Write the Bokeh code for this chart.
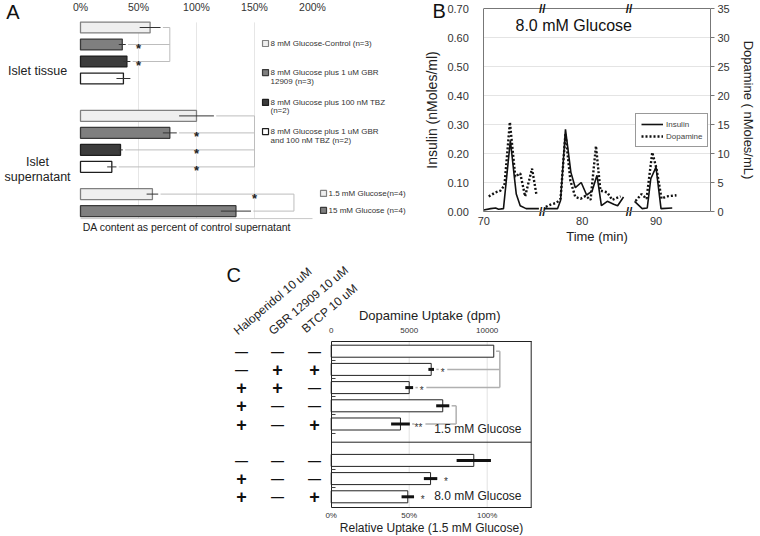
from bokeh.plotting import figure
from bokeh.models import (Range1d, LinearAxis, FixedTicker, ColumnDataSource,
                          Legend, LegendItem, NumeralTickFormatter)
from bokeh.core.properties import value
from bokeh.embed import file_html
from bokeh.resources import INLINE

FONT = "Liberation Sans"

# ================= Panel A data =================
a_groups = [0, 0, 0, 0, 1, 1, 1, 1, 2, 2]
a_kinds = [0, 1, 2, 3, 0, 1, 2, 3, 0, 1]
a_values = [60, 36, 40, 37, 100, 77, 34.5, 27, 62, 134]
a_errors = [9, 3, 3, 6, 15, 6, 2, 4, 5, 13]
a_star_bars = [1, 2, 5, 6, 7, 8]
a_bracket_groups = [[0, 1, 2], [4, 5, 6, 7], [8, 9]]
a_x_ticks = [0, 50, 100, 150, 200]
a_x_tick_labels = ["0%", "50%", "100%", "150%", "200%"]
a_row_labels = ["Islet tissue", "Islet", "supernatant"]
a_legend_lines = ["8 mM Glucose-Control (n=3)",
                  "8 mM Glucose plus 1 uM GBR", "12909 (n=3)",
                  "8 mM Glucose plus 100 nM TBZ", "(n=2)",
                  "8 mM Glucose plus 1 uM GBR", "and  100 nM TBZ (n=2)",
                  "1.5 mM Glucose(n=4)", "15 mM Glucose (n=4)"]
a_legend_kinds = [0, 1, 2, 3, 0, 1]
a_xlabel = "DA content  as percent of control supernatant"

# ================= Panel B data =================
b_shift = 2.5  # minutes removed at the second axis break
ins_t1 = [70.0, 70.7, 71.2, 71.5, 72.0, 72.7, 73.1, 73.3, 73.7, 74.3, 75.6]
ins_v1 = [0.005, 0.010, 0.012, 0.008, 0.010, 0.245, 0.120, 0.060, 0.020, 0.010, 0.010]
dop_t1 = [70.5, 71.2, 71.7, 72.1, 72.65, 73.2, 73.7, 74.2, 74.9, 75.35]
dop_v1 = [2.6, 3.3, 3.6, 4.5, 15.4, 6.0, 6.6, 2.6, 7.4, 2.9]
ins_t2 = [76.1, 77.5, 77.8, 78.3, 78.85, 79.3, 79.9, 80.45, 81.0, 81.5, 81.95, 82.55, 83.2, 83.6, 84.2]
ins_v2 = [0.010, 0.010, 0.038, 0.283, 0.135, 0.082, 0.100, 0.057, 0.070, 0.125, 0.020, 0.035, 0.025, 0.020, 0.050]
dop_t2 = [76.3, 76.8, 77.4, 77.8, 78.3, 78.8, 79.3, 79.85, 80.35, 80.85, 81.4, 81.85, 82.55, 83.05, 83.9]
dop_v2 = [0.8, 1.2, 1.5, 2.2, 13.4, 5.3, 2.5, 2.2, 2.7, 2.0, 11.3, 3.6, 3.3, 2.0, 2.6]
ins_t3 = [87.82, 88.60, 89.11, 89.47, 90.00, 90.51, 91.65]
ins_v3 = [0.035, 0.010, 0.012, 0.113, 0.153, 0.010, 0.012]
dop_t3 = [87.92, 88.53, 89.04, 89.62, 90.05, 90.56, 91.07, 92.08]
dop_v3 = [1.8, 3.0, 2.2, 10.2, 7.4, 2.2, 2.6, 2.8]
b_x_ticks = [70, 80, 90]
b_ins_ticks = [0.0, 0.1, 0.2, 0.3, 0.4, 0.5, 0.6, 0.7]
b_dop_ticks = [0, 5, 10, 15, 20, 25, 30, 35]
b_title = "8.0 mM Glucose"
b_series = ["Insulin", "Dopamine"]

# ================= Panel C data =================
c_treatments = ["Haloperidol 10 uM", "GBR 12909 10 uM", "BTCP  10 uM"]
c_halo = [0, 0, 1, 1, 1, 0, 1, 1]
c_gbr = [0, 1, 1, 0, 0, 0, 0, 0]
c_btcp = [0, 1, 0, 0, 1, 0, 0, 1]
c_group = [0, 0, 0, 0, 0, 1, 1, 1]
c_uptake = [10420, 6410, 5000, 7150, 4440, 9140, 6370, 4910]
c_err = [0, 180, 250, 420, 600, 1100, 430, 400]
c_sig = ["", "*", "*", "", "**", "", "*", "*"]
c_bracket_groups = [[0, 1, 2], [3, 4]]
c_glucose = ["1.5 mM Glucose", "8.0 mM Glucose"]
c_x_ticks = [0, 5000, 10000]
c_top_labels = ["0", "5000", "10000"]
c_rel_labels = ["0%", "50%", "100%"]
c_top_title = "Dopamine Uptake  (dpm)"
c_bottom_title = "Relative Uptake (1.5 mM Glucose)"

# ================= canvas geometry =================
W, H = 760, 536


def xrange_for(v0, p0, s):
    return Range1d(v0 - p0 / s, v0 + (W - p0) / s)


def yrange_down(v0, p0, s):
    return Range1d(v0 + (H - p0) / s, v0 - p0 / s)


def yrange_up(v0, p0, s):
    return Range1d(v0 - (H - p0) / s, v0 + p0 / s)


p = figure(width=W, height=H, output_backend="svg", toolbar_location=None,
           x_range=xrange_for(0, 80, 1.16), y_range=yrange_down(0, 27, 17),
           x_axis_location=None, y_axis_location=None,
           min_border_left=0, min_border_right=0, min_border_top=0, min_border_bottom=0)
p.outline_line_color = None
p.grid.visible = False
p.extra_x_ranges = {"b_x": xrange_for(70, 483.3, 9.84), "c_x": xrange_for(0, 330.7, 0.0156)}
p.extra_y_ranges = {"b_y": yrange_up(0, 211, 290), "b_dop": yrange_up(0, 211, 5.8),
                    "c_y": yrange_down(0, 350.7, 18.2)}


def txt(x, y, text, size, align="left", baseline="middle", color="#222222", **kw):
    return p.text(x=x, y=y, text=text, text_font=value(FONT), text_font_size=size,
                  text_align=align, text_baseline=baseline, text_color=color, **kw)


# ---------------- Panel A ----------------
A_GROUP_OFFSET = [0, 5.2, 9.8]
A_STAR_X = [50, 100, 150]
A_BRACKET_X = [77, 150, 184]
A_FILL = ["#efefef", "#7f7f7f", "#3c3c3c", "#ffffff"]
A_LINE = ["#808080", "#3a3a3a", "#1e1e1e", "#1e1e1e"]
A_LEG_Y = [0.94, 2.65, 3.15, 4.41, 4.91, 6.12, 6.65, 9.76, 10.76]
A_LEG_X = [163.8] * 7 + [213.8] * 2
A_LEG_SQ_Y = [0.94, 2.65, 4.41, 6.12, 9.76, 10.76]
A_LEG_SQ_X = [159.5] * 4 + [209.5] * 2
A_ROWLAB_Y = [2.53, 7.94, 8.82]
A_BASE_Y = 11.24

a_y = []
_cnt = {}
for g in a_groups:
    k = _cnt.get(g, 0)
    a_y.append(A_GROUP_OFFSET[g] + k)
    _cnt[g] = k + 1

top_ax = LinearAxis(ticker=FixedTicker(ticks=a_x_ticks), fixed_location=-0.5,
                    bounds=(a_x_ticks[0], a_x_ticks[-1]),
                    major_label_overrides={t: l for t, l in zip(a_x_ticks, a_x_tick_labels)})
top_ax.axis_line_color = None
top_ax.major_tick_line_color = None
top_ax.minor_tick_line_color = None
top_ax.major_label_standoff = 0
top_ax.major_label_text_font = FONT
top_ax.major_label_text_font_size = "10.5px"
top_ax.major_label_text_color = "#333333"
p.add_layout(top_ax, "above")

p.segment(x0=a_x_ticks[1:4], y0=[-0.3] * 3, x1=a_x_ticks[1:4], y1=[A_BASE_Y] * 3,
          line_color="#e6e6e6", line_width=1)
p.segment(x0=[a_x_ticks[0]], y0=[A_BASE_Y], x1=[a_x_ticks[-1]], y1=[A_BASE_Y],
          line_color="#c8c8c8", line_width=1)

cx0, cx1, cy0, cy1 = [], [], [], []
for gi, bars in enumerate(a_bracket_groups):
    bx = A_BRACKET_X[gi]
    for b in bars:
        cx0.append(a_values[b] + a_errors[b] + 2)
        cx1.append(bx)
        cy0.append(a_y[b])
        cy1.append(a_y[b])
    cx0.append(bx); cx1.append(bx)
    cy0.append(a_y[bars[0]]); cy1.append(a_y[bars[-1]])
p.segment(x0=cx0, y0=cy0, x1=cx1, y1=cy1, line_color="#bdbdbd", line_width=1)

srcA = ColumnDataSource(dict(y=a_y, v=a_values,
                             fill=[A_FILL[k] for k in a_kinds],
                             line=[A_LINE[k] for k in a_kinds],
                             lo=[v - e for v, e in zip(a_values, a_errors)],
                             hi=[v + e for v, e in zip(a_values, a_errors)]))
p.hbar(y="y", left=0, right="v", height=0.64, fill_color="fill", line_color="line",
       line_width=1.3, source=srcA)
p.segment(x0="lo", y0="y", x1="hi", y1="y", line_color="#333333", line_width=1, source=srcA)

txt([A_STAR_X[a_groups[b]] for b in a_star_bars], [a_y[b] for b in a_star_bars],
    ["*"] * len(a_star_bars), "13px", align="center", text_font_style="bold", y_offset=4)

p.scatter(x=A_LEG_SQ_X, y=A_LEG_SQ_Y, marker="square", size=6,
          fill_color=[A_FILL[k] for k in a_legend_kinds],
          line_color=[A_LINE[k] for k in a_legend_kinds], line_width=1.2)
txt(A_LEG_X, A_LEG_Y, a_legend_lines, "8px", color="#333333")
txt([-37, -37, -37], A_ROWLAB_Y, a_row_labels, "12.5px", align="center")
txt([93], [11.76], [a_xlabel], "10.5px", align="center")
txt([-64], [-0.94], ["A"], "20px", color="#111111")

# ---------------- Panel B ----------------
B_X_END = 93.04


def disp(t):
    return t - b_shift if t > 86 else t


b_breaks = [(ins_t1[-1] + ins_t2[0]) / 2 + 0.1, (ins_t2[-1] + disp(ins_t3[0])) / 2]
BK = dict(x_range_name="b_x", y_range_name="b_y")

inner = [t for t in b_ins_ticks if 0 < t < b_ins_ticks[-1]]
p.segment(x0=[70] * len(inner), y0=inner, x1=[B_X_END] * len(inner), y1=inner,
          line_color="#e4e4e4", line_width=1, **BK)
p.segment(x0=[70], y0=[b_ins_ticks[-1]], x1=[B_X_END], y1=[b_ins_ticks[-1]],
          line_color="#777777", line_width=1, **BK)

ya = LinearAxis(x_range_name="b_x", y_range_name="b_y", fixed_location=70,
                bounds=(b_ins_ticks[0], b_ins_ticks[-1]), ticker=FixedTicker(ticks=b_ins_ticks),
                formatter=NumeralTickFormatter(format="0.00"))
ya.major_tick_line_color = None
ya.minor_tick_line_color = None
ya.axis_line_color = "#777777"
ya.major_label_standoff = 9
ya.major_label_text_font = FONT
ya.major_label_text_font_size = "11px"
ya.major_label_text_color = "#333333"
ya.axis_label = "Insulin (nMoles/ml)"
ya.axis_label_text_font = FONT
ya.axis_label_text_font_size = "14px"
ya.axis_label_text_font_style = "normal"
ya.axis_label_standoff = 4
ya.axis_label_text_color = "#222222"
p.add_layout(ya, "left")

xticks_disp = [disp(t) for t in b_x_ticks]
xa = LinearAxis(x_range_name="b_x", y_range_name="b_y", fixed_location=0,
                bounds=(70, B_X_END), ticker=FixedTicker(ticks=xticks_disp),
                major_label_overrides={d: str(t) for d, t in zip(xticks_disp, b_x_ticks)})
xa.major_tick_out = 0
xa.major_tick_in = 0
xa.minor_tick_line_color = None
xa.axis_line_color = "#777777"
xa.major_label_standoff = 5
xa.major_label_text_font = FONT
xa.major_label_text_font_size = "11px"
xa.major_label_text_color = "#333333"
xa.axis_label = "Time (min)"
xa.axis_label_text_font = FONT
xa.axis_label_text_font_size = "13px"
xa.axis_label_text_font_style = "normal"
xa.axis_label_standoff = 1
xa.axis_label_text_color = "#222222"
p.add_layout(xa, "below")

ra = LinearAxis(x_range_name="b_x", y_range_name="b_dop", fixed_location=B_X_END,
                bounds=(b_dop_ticks[0], b_dop_ticks[-1]), ticker=FixedTicker(ticks=b_dop_ticks))
ra.major_tick_out = 4
ra.major_tick_in = 0
ra.major_tick_line_color = "#777777"
ra.minor_tick_line_color = None
ra.axis_line_color = "#777777"
ra.major_label_standoff = 3
ra.major_label_text_font = FONT
ra.major_label_text_font_size = "11px"
ra.major_label_text_color = "#333333"
ra.axis_label = "Dopamine ( nMoles/mL)"
ra.axis_label_text_font = FONT
ra.axis_label_text_font_size = "13px"
ra.axis_label_text_font_style = "normal"
ra.axis_label_standoff = 8
ra.axis_label_text_color = "#222222"
p.add_layout(ra, "right")

ins_r = []
for ts, vs in [(ins_t1, ins_v1), (ins_t2, ins_v2), (ins_t3, ins_v3)]:
    ins_r.append(p.line([disp(t) for t in ts], vs, line_color="#111111", line_width=1.6, **BK))
dop_r = []
for ts, vs in [(dop_t1, dop_v1), (dop_t2, dop_v2), (dop_t3, dop_v3)]:
    dop_r.append(p.line([disp(t) for t in ts], vs, x_range_name="b_x", y_range_name="b_dop",
                        line_color="#111111", line_width=2.4, line_dash="2 2"))

txt([73.22], [0.641], [b_title], "16px", color="#111111", **BK)
txt(b_breaks * 2, [0.0, 0.0, 0.70, 0.70], ["//"] * 4, "12px", align="center",
    color="#111111", text_font_style="bold", **BK)
txt([64.79], [0.69], ["B"], "20px", color="#111111", **BK)

legB = Legend(items=[LegendItem(label=b_series[0], renderers=[ins_r[0]]),
                     LegendItem(label=b_series[1], renderers=[dop_r[0]])],
              location=(635, H - 147))
legB.label_text_font = FONT
legB.label_text_font_size = "8px"
legB.glyph_width = 22
legB.glyph_height = 10
legB.label_height = 10
legB.label_standoff = 3
legB.spacing = 2
legB.padding = 5
legB.margin = 0
legB.border_line_color = "#333333"
legB.background_fill_color = "white"
legB.background_fill_alpha = 1
p.add_layout(legB)

# ---------------- Panel C ----------------
C_GROUP_OFFSET = [0, 6]
C_COL_X = [-5750, -3442, -1071]
C_HEAD_X = [-6135, -3891, -1776]
C_HEAD_Y = [-1.03, -1.03, -1.14]
C_BRACKET_X = [10810, 8010]
C_DIVIDER = 5
C_X_END = 12820
C_TOP, C_BOTTOM = -0.56, 8.6
CK = dict(x_range_name="c_x", y_range_name="c_y")

c_y = []
_cnt = {}
for g in c_group:
    k = _cnt.get(g, 0)
    c_y.append(C_GROUP_OFFSET[g] + k)
    _cnt[g] = k + 1

p.segment(x0=c_x_ticks[1:], y0=[C_TOP] * 2, x1=c_x_ticks[1:], y1=[C_BOTTOM] * 2,
          line_color="#e2e2e2", line_width=1, **CK)
p.segment(x0=[0, C_X_END], y0=[C_DIVIDER, C_TOP], x1=[C_X_END, C_X_END], y1=[C_DIVIDER, C_BOTTOM],
          line_color="#222222", line_width=1, **CK)

yc = LinearAxis(x_range_name="c_x", y_range_name="c_y", fixed_location=0,
                bounds=(C_TOP, C_BOTTOM),
                ticker=FixedTicker(ticks=[y + 0.5 for y in c_y if y + 0.5 < max(c_y)]))
yc.major_tick_in = 4
yc.major_tick_out = 0
yc.major_tick_line_color = "#444444"
yc.minor_tick_line_color = None
yc.axis_line_color = "#222222"
yc.major_label_text_color = None
p.add_layout(yc, "left")

xc = LinearAxis(x_range_name="c_x", y_range_name="c_y", fixed_location=C_BOTTOM,
                bounds=(0, C_X_END), ticker=FixedTicker(ticks=c_x_ticks),
                major_label_overrides={t: l for t, l in zip(c_x_ticks, c_rel_labels)})
xc.major_tick_out = 0
xc.major_tick_in = 0
xc.minor_tick_line_color = None
xc.axis_line_color = "#222222"
xc.major_label_standoff = 3
xc.major_label_text_font = FONT
xc.major_label_text_font_size = "8px"
xc.major_label_text_color = "#333333"
xc.axis_label = c_bottom_title
xc.axis_label_text_font = FONT
xc.axis_label_text_font_size = "12px"
xc.axis_label_text_font_style = "normal"
xc.axis_label_standoff = -2
xc.axis_label_text_color = "#222222"
p.add_layout(xc, "below")

tc = LinearAxis(x_range_name="c_x", y_range_name="c_y", fixed_location=C_TOP,
                bounds=(0, C_X_END), ticker=FixedTicker(ticks=c_x_ticks),
                major_label_overrides={t: l for t, l in zip(c_x_ticks, c_top_labels)})
tc.major_tick_out = 0
tc.major_tick_in = 0
tc.minor_tick_line_color = None
tc.axis_line_color = "#222222"
tc.major_label_standoff = 8
tc.major_label_text_font = FONT
tc.major_label_text_font_size = "8px"
tc.major_label_text_color = "#333333"
tc.axis_label = c_top_title
tc.axis_label_text_font = FONT
tc.axis_label_text_font_size = "13px"
tc.axis_label_text_font_style = "normal"
tc.axis_label_standoff = 3
tc.axis_label_text_color = "#222222"
p.add_layout(tc, "above")

sx0, sx1, sy0, sy1 = [], [], [], []
dx0, dx1, dy = [], [], []
for gi, bars in enumerate(c_bracket_groups):
    bx = C_BRACKET_X[gi]
    for b in bars:
        end = c_uptake[b] + c_err[b] + 150
        if c_sig[b]:
            sx = c_uptake[b] + c_err[b] + 550
            dx0.append(end); dx1.append(sx - 250); dy.append(c_y[b])
            sx0.append(sx + 150 * len(c_sig[b]) + 150)
        else:
            sx0.append(end)
        sx1.append(bx); sy0.append(c_y[b]); sy1.append(c_y[b])
    sx0.append(bx); sx1.append(bx); sy0.append(c_y[bars[0]]); sy1.append(c_y[bars[-1]])
p.segment(x0=sx0, y0=sy0, x1=sx1, y1=sy1, line_color="#b0b0b0", line_width=1.5, **CK)
p.segment(x0=dx0, y0=dy, x1=dx1, y1=dy, line_color="#b0b0b0", line_width=1.5,
          line_dash="3 2", **CK)

srcC = ColumnDataSource(dict(y=c_y, v=c_uptake))
p.hbar(y="y", left=0, right="v", height=0.66, fill_color="white", line_color="#222222",
       line_width=1, source=srcC, **CK)
eb = [i for i, e in enumerate(c_err) if e > 0]
p.segment(x0=[c_uptake[i] - c_err[i] for i in eb], y0=[c_y[i] for i in eb],
          x1=[c_uptake[i] + c_err[i] for i in eb], y1=[c_y[i] for i in eb],
          line_color="#111111", line_width=3, **CK)
sb = [i for i, s in enumerate(c_sig) if s]
txt([c_uptake[i] + c_err[i] + 550 for i in sb], [c_y[i] for i in sb],
    [c_sig[i] for i in sb], "10px", align="center", color="#333333", y_offset=3, **CK)
txt([12199, 12199], [4.3, 7.93], c_glucose, "12px", align="right", **CK)

plus_x, plus_y, minus_x, minus_y = [], [], [], []
for ci, col in enumerate([c_halo, c_gbr, c_btcp]):
    for ri, on in enumerate(col):
        if on:
            plus_x.append(C_COL_X[ci]); plus_y.append(c_y[ri])
        else:
            minus_x.append(C_COL_X[ci]); minus_y.append(c_y[ri])
txt(plus_x, plus_y, ["+"] * len(plus_x), "18px", align="center", color="#111111",
    text_font_style="bold", **CK)
txt(minus_x, minus_y, ["\u2014"] * len(minus_x), "13px", align="center", color="#111111",
    text_font_style="bold", **CK)
txt(C_HEAD_X, C_HEAD_Y, c_treatments, "12px", baseline="alphabetic", angle=40,
    angle_units="deg", **CK)
txt([-6712], [-4.16], ["C"], "20px", color="#111111", **CK)

open("out.html", "w").write(file_html(p, INLINE))
